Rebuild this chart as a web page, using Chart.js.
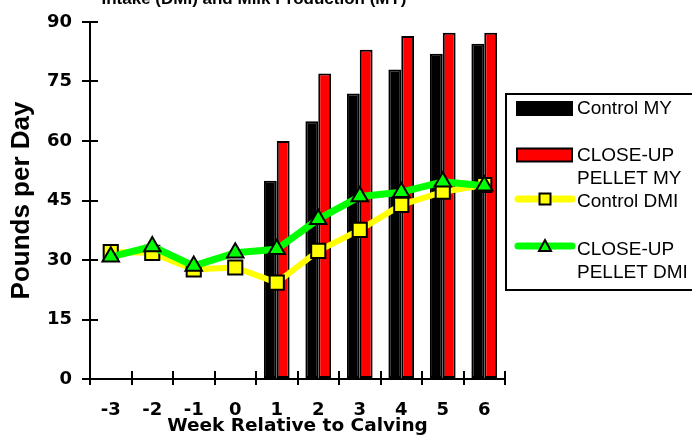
<!DOCTYPE html>
<html><head><meta charset="utf-8">
<script src="https://cdn.jsdelivr.net/npm/chart.js@4.4.1/dist/chart.umd.min.js"></script>
<style>html,body{margin:0;padding:0;background:#fff;overflow:hidden}#wrap{position:relative;width:692px;height:443px}</style>
</head><body><div id="wrap"><canvas id="c" width="692" height="443"></canvas></div>
<script>
const chartTitle = 'Intake (DMI) and Milk Production (MY)';
const xTitle = 'Week Relative to Calving';
const yTitle = 'Pounds per Day';
const weeks = ['-3','-2','-1','0','1','2','3','4','5','6'];
const controlMY = [null,null,null,null,50,65,72,78,82,84.5];
const closeUpMY = [null,null,null,null,60,77,83,86.5,87.3,87.3];
const controlDMI = [32,31.8,27.6,28.1,24.3,32.3,37.6,43.9,47.2,48.9];
const closeUpDMI = [30.8,33.4,28.5,31.8,32.7,40.3,46,47.1,49.7,48.7];
const yTicks = [0,15,30,45,60,75,90];
const seriesNames = [['Control MY'],['CLOSE-UP','PELLET MY'],['Control DMI'],['CLOSE-UP','PELLET DMI']];

const TICKFONT = {family:'DejaVu Sans', weight:'bold', size:18};

const innerTicks = {
  id:'innerTicks',
  afterDatasetsDraw(chart){
    const ctx = chart.ctx, x = chart.scales.x, y = chart.scales.y;
    const a = chart.chartArea;
    ctx.save();
    ctx.strokeStyle = '#000'; ctx.lineWidth = 2;
    ctx.beginPath();
    y.ticks.forEach(t => {
      const py = Math.round(y.getPixelForValue(t.value));
      ctx.moveTo(a.left, py); ctx.lineTo(a.left + 8, py);
    });
    for (let i = 0; i <= weeks.length; i++) {
      const px = Math.round(x.getPixelForValue(i - 0.5));
      ctx.moveTo(px, a.bottom); ctx.lineTo(px, a.bottom - 8);
    }
    ctx.stroke();
    ctx.restore();
  }
};

const titlePlugin = {
  id:'topTitle',
  afterDraw(chart){
    const ctx = chart.ctx;
    ctx.save();
    ctx.fillStyle = '#000';
    ctx.font = 'bold 17px "Liberation Sans", Arial, sans-serif';
    ctx.textAlign = 'center';
    ctx.textBaseline = 'alphabetic';
    ctx.fillText(chartTitle, 254, 4);
    ctx.restore();
  }
};

const boxLegend = {
  id:'boxLegend',
  afterDraw(chart){
    const ctx = chart.ctx;
    const ds = chart.data.datasets;
    ctx.save();
    ctx.fillStyle = '#fff';
    ctx.fillRect(506, 94, 200, 196);
    ctx.lineWidth = 2; ctx.strokeStyle = '#000';
    ctx.strokeRect(506, 94, 200, 196);
    const items = [
      {d:0, sy:108.5, ty:109},
      {d:1, sy:155, ty:156},
      {d:2, sy:199, ty:202},
      {d:3, sy:246, ty:250}
    ];
    items.forEach(it => {
      const d = ds[it.d];
      if (d.type === 'bar') {
        ctx.fillStyle = d.backgroundColor;
        ctx.fillRect(517, it.sy - 6.5, 55, 13);
        ctx.lineWidth = 2; ctx.strokeStyle = '#000';
        ctx.strokeRect(517, it.sy - 6.5, 55, 13);
      } else {
        ctx.strokeStyle = d.borderColor; ctx.lineWidth = 7; ctx.lineCap = 'round';
        ctx.beginPath(); ctx.moveTo(518, it.sy); ctx.lineTo(572, it.sy); ctx.stroke();
        ctx.fillStyle = d.pointBackgroundColor; ctx.strokeStyle = '#000'; ctx.lineWidth = 2;
        const cx = 545, cy = it.sy;
        ctx.beginPath();
        if (d.pointStyle === 'rect') {
          ctx.rect(cx - 5.5, cy - 5.5, 11, 11);
        } else {
          ctx.moveTo(cx, cy - 6); ctx.lineTo(cx + 6, cy + 5); ctx.lineTo(cx - 6, cy + 5); ctx.closePath();
        }
        ctx.fill(); ctx.stroke();
      }
      ctx.fillStyle = '#000';
      ctx.font = '19px "Liberation Sans", Arial, sans-serif';
      ctx.textAlign = 'left'; ctx.textBaseline = 'middle';
      seriesNames[it.d].forEach((line, k) => ctx.fillText(line, 577, it.ty + k * 23));
    });
    ctx.restore();
  }
};

new Chart(document.getElementById('c'), {
  type:'bar',
  data:{
    labels: weeks,
    datasets:[
      {type:'bar', label: seriesNames[0].join(' '), data: controlMY, backgroundColor:'#000000', borderColor:'#000000', borderWidth:2, borderSkipped:false, order:2},
      {type:'bar', label: seriesNames[1].join(' '), data: closeUpMY, backgroundColor:'#FF0000', borderColor:'#000000', borderWidth:2, borderSkipped:false, order:3},
      {type:'line', label: seriesNames[2].join(' '), data: controlDMI, borderColor:'#FFFF00', backgroundColor:'#FFFF00', borderWidth:6, borderJoinStyle:'round', borderCapStyle:'round', tension:0,
        pointStyle:'rect', pointRadius:10, pointBackgroundColor:'#FFFF00', pointBorderColor:'#000000', pointBorderWidth:2, order:1},
      {type:'line', label: seriesNames[3].join(' '), data: closeUpDMI, borderColor:'#00FF00', backgroundColor:'#00FF00', borderWidth:7, borderJoinStyle:'round', borderCapStyle:'round', tension:0,
        pointStyle:'triangle', pointRadius:9.5, pointBackgroundColor:'#00FF00', pointBorderColor:'#000000', pointBorderWidth:2, order:0}
    ]
  },
  options:{
    responsive:false,
    animation:false,
    devicePixelRatio:1,
    layout:{padding:{top:22, right:187, left:0, bottom:0}},
    datasets:{bar:{categoryPercentage:0.62, barPercentage:1.0}},
    plugins:{legend:{display:false}, tooltip:{enabled:false}, title:{display:false}},
    scales:{
      x:{
        offset:true,
        grid:{display:true, offset:true, drawOnChartArea:false, drawTicks:true, tickLength:6, color:'#000', lineWidth:2},
        border:{display:true, color:'#000', width:2},
        ticks:{color:'#000', font:TICKFONT, padding:15, maxRotation:0, autoSkip:false},
        title:{display:true, text:xTitle, color:'#000', font:{family:'DejaVu Sans', weight:'bold', size:18.5}, padding:{top:0, bottom:6}},
        afterFit(s){ s.height = 64; }
      },
      y:{
        min:0, max:90,
        afterBuildTicks(s){ s.ticks = yTicks.map(v => ({value:v})); },
        grid:{display:true, drawOnChartArea:false, drawTicks:true, tickLength:8, color:'#000', lineWidth:2},
        border:{display:true, color:'#000', width:2},
        ticks:{color:'#000', font:TICKFONT, padding:10},
        title:{display:true, text:yTitle, color:'#000', font:{family:'Liberation Sans', weight:'bold', size:26}, padding:{top:6, bottom:0}},
        afterFit(s){ s.width = 90; }
      }
    }
  },
  plugins:[innerTicks, boxLegend, titlePlugin]
});
</script>
</body></html>
